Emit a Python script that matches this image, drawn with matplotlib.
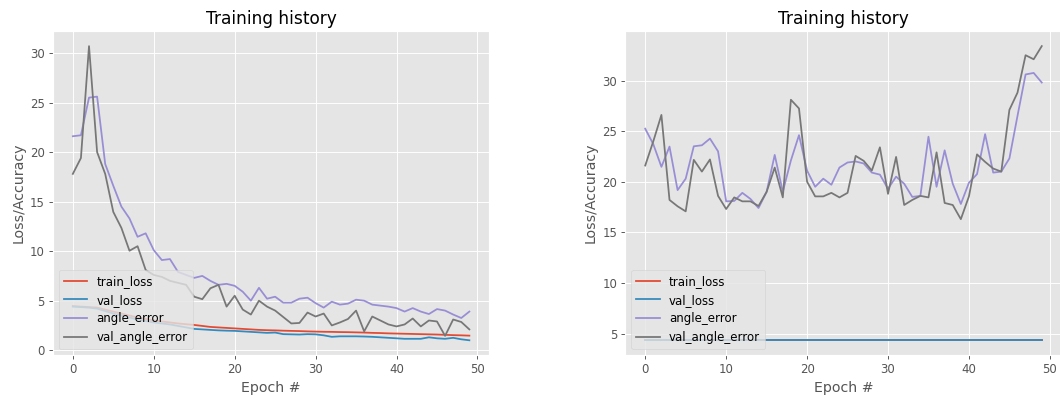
import numpy as np
import matplotlib
matplotlib.use('Agg')
import matplotlib.pyplot as plt

epochs = np.arange(0, 50)

# run 1
left_train_loss = [4.45, 4.4, 4.35, 4.3, 4.1, 3.9, 3.7, 3.5, 3.3, 3.15,
                   3.0, 2.9, 2.8, 2.7, 2.62, 2.55, 2.45, 2.35, 2.3, 2.25,
                   2.2, 2.15, 2.1, 2.05, 2.02, 2.0, 1.97, 1.95, 1.93, 1.9,
                   1.88, 1.86, 1.85, 1.83, 1.82, 1.8, 1.78, 1.75, 1.73, 1.7,
                   1.68, 1.66, 1.64, 1.62, 1.6, 1.58, 1.55, 1.52, 1.5, 1.47]
left_val_loss = [4.4, 4.35, 4.3, 4.2, 3.95, 3.7, 3.5, 3.3, 3.1, 2.95,
                 2.8, 2.7, 2.6, 2.45, 2.3, 2.15, 2.1, 2.05, 2.0, 1.97,
                 1.95, 1.9, 1.85, 1.8, 1.75, 1.78, 1.62, 1.6, 1.58, 1.62,
                 1.6, 1.5, 1.35, 1.4, 1.4, 1.4, 1.38, 1.35, 1.3, 1.25,
                 1.2, 1.15, 1.15, 1.15, 1.3, 1.2, 1.15, 1.25, 1.1, 1.0]
left_angle_error = [21.6, 21.7, 25.5, 25.6, 18.8, 16.6, 14.5, 13.3, 11.45, 11.8,
                    10.1, 9.1, 9.2, 7.9, 7.6, 7.3, 7.5, 7.0, 6.6, 6.7,
                    6.5, 5.9, 5.0, 6.3, 5.2, 5.4, 4.8, 4.8, 5.2, 5.3,
                    4.75, 4.3, 4.9, 4.6, 4.7, 5.1, 5.0, 4.6, 4.5, 4.4,
                    4.25, 3.9, 4.25, 3.9, 3.65, 4.15, 4.0, 3.6, 3.25, 3.9]
left_val_angle_error = [17.8, 19.4, 30.7, 20.0, 17.8, 13.96, 12.35, 10.04, 10.5, 8.1,
                        7.6, 7.4, 7.0, 6.8, 6.6, 5.4, 5.15, 6.25, 6.6, 4.4,
                        5.5, 4.1, 3.6, 5.0, 4.4, 4.0, 3.35, 2.7, 2.75, 3.8,
                        3.4, 3.7, 2.5, 2.8, 3.15, 4.0, 1.9, 3.4, 3.0, 2.6,
                        2.4, 2.6, 3.2, 2.4, 3.0, 2.9, 1.45, 3.1, 2.85, 2.1]

# run 2
right_train_loss = [4.36, 4.36, 4.36, 4.36, 4.36, 4.36, 4.36, 4.36, 4.36, 4.36,
                    4.36, 4.36, 4.36, 4.36, 4.36, 4.36, 4.36, 4.36, 4.36, 4.36,
                    4.36, 4.36, 4.36, 4.36, 4.36, 4.36, 4.36, 4.36, 4.36, 4.36,
                    4.36, 4.36, 4.36, 4.36, 4.36, 4.36, 4.36, 4.36, 4.36, 4.36,
                    4.36, 4.36, 4.36, 4.36, 4.36, 4.36, 4.36, 4.36, 4.36, 4.36]
right_val_loss = [4.33, 4.33, 4.33, 4.33, 4.33, 4.33, 4.33, 4.33, 4.33, 4.33,
                  4.33, 4.33, 4.33, 4.33, 4.33, 4.33, 4.33, 4.33, 4.33, 4.33,
                  4.33, 4.33, 4.33, 4.33, 4.33, 4.33, 4.33, 4.33, 4.33, 4.33,
                  4.33, 4.33, 4.33, 4.33, 4.33, 4.33, 4.33, 4.33, 4.33, 4.33,
                  4.33, 4.33, 4.33, 4.33, 4.33, 4.33, 4.33, 4.33, 4.33, 4.33]
right_angle_error = [25.24, 23.7, 21.47, 23.47, 19.17, 20.3, 23.5, 23.6, 24.26, 23.0,
                     18.06, 18.1, 18.9, 18.3, 17.4, 19.0, 22.65, 19.0, 22.1, 24.6,
                     21.1, 19.5, 20.3, 19.7, 21.4, 21.9, 22.0, 21.8, 20.9, 20.7,
                     19.3, 20.5, 19.8, 18.5, 18.6, 24.45, 19.5, 23.1, 19.8, 17.8,
                     19.9, 20.75, 24.7, 20.9, 21.0, 22.3, 26.5, 30.6, 30.75, 29.8]
right_val_angle_error = [21.6, 24.0, 26.6, 18.2, 17.57, 17.07, 22.16, 21.0, 22.2, 18.6,
                         17.3, 18.45, 18.06, 18.06, 17.6, 19.0, 21.4, 18.45, 28.1, 27.24,
                         20.0, 18.55, 18.55, 18.9, 18.45, 18.9, 22.55, 22.06, 21.1, 23.4,
                         18.8, 22.45, 17.7, 18.2, 18.6, 18.45, 22.9, 17.9, 17.7, 16.3,
                         18.55, 22.7, 21.96, 21.3, 21.0, 27.1, 28.8, 32.5, 32.1, 33.4]

plt.style.use('ggplot')
DPI = 85
fig = plt.figure(figsize=(1060 / DPI, 400 / DPI), dpi=DPI)

ax1 = fig.add_axes([0.05, 0.1125, 0.4115, 0.809])
ax2 = fig.add_axes([0.59, 0.1125, 0.4115, 0.809])

runs = [
    (ax1, left_train_loss, left_val_loss, left_angle_error, left_val_angle_error),
    (ax2, right_train_loss, right_val_loss, right_angle_error, right_val_angle_error),
]

for ax, tl, vl, ae, vae in runs:
    ax.plot(epochs, tl, label="train_loss")
    ax.plot(epochs, vl, label="val_loss")
    ax.plot(epochs, ae, label="angle_error")
    ax.plot(epochs, vae, label="val_angle_error")
    ax.set_title("Training history")
    ax.set_xlabel("Epoch #")
    ax.set_ylabel("Loss/Accuracy")
    ax.legend(loc="lower left")

fig.savefig("out.png", dpi=DPI)
